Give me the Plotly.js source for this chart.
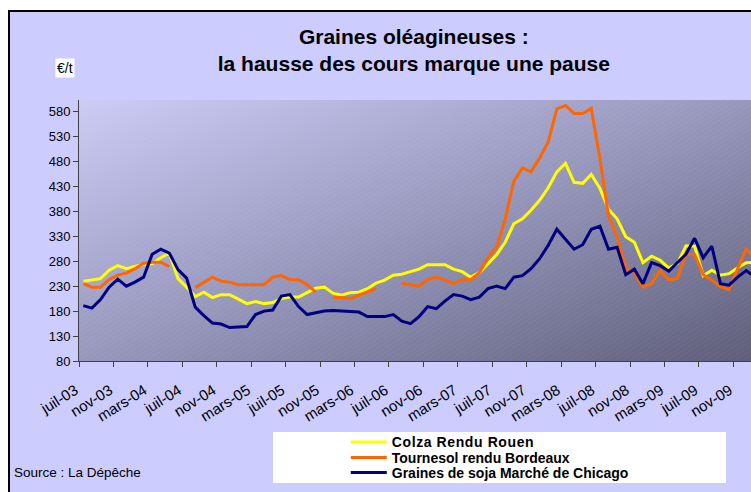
<!DOCTYPE html>
<html>
<head>
<meta charset="utf-8">
<script src="https://cdn.plot.ly/plotly-3.0.1.min.js"></script>
<style>
  html, body { margin:0; padding:0; background:#ffffff; }
  #chart { position:absolute; left:8px; top:10px; width:741px; height:480px;
           border-left:2px solid #000; border-top:2px solid #000; }
  #chart text.legendtext { letter-spacing: 0.6px !important; }
</style>
</head>
<body>
<div id="chart"></div>
<script>
// ---- data (monthly, €/t) ----
const months = [
  "juil-03","août-03","sept-03","oct-03","nov-03","déc-03",
  "janv-04","févr-04","mars-04","avr-04","mai-04","juin-04","juil-04","août-04","sept-04","oct-04","nov-04","déc-04",
  "janv-05","févr-05","mars-05","avr-05","mai-05","juin-05","juil-05","août-05","sept-05","oct-05","nov-05","déc-05",
  "janv-06","févr-06","mars-06","avr-06","mai-06","juin-06","juil-06","août-06","sept-06","oct-06","nov-06","déc-06",
  "janv-07","févr-07","mars-07","avr-07","mai-07","juin-07","juil-07","août-07","sept-07","oct-07","nov-07","déc-07",
  "janv-08","févr-08","mars-08","avr-08","mai-08","juin-08","juil-08","août-08","sept-08","oct-08","nov-08","déc-08",
  "janv-09","févr-09","mars-09","avr-09","mai-09","juin-09","juil-09","août-09","sept-09","oct-09","nov-09","déc-09",
  "janv-10"
];

const colza = [
  240,243,245,262,271,265,270,274,275,287,296,245,228,209,218,207,213,213,
  204,195,199,195,197,205,208,208,217,226,228,216,212,217,218,225,236,242,
  252,254,259,264,273,273,273,264,259,248,257,275,293,318,355,365,382,402,
  427,459,476,438,436,454,426,384,365,329,318,277,290,282,266,275,311,310,
  251,262,252,255,267,277,278
];

const tournesol = [
  235,228,228,243,252,256,265,276,278,278,269,null,null,227,238,248,240,238,
  233,233,233,233,248,251,243,243,233,218,null,207,207,205,212,218,225,null,
  null,236,233,230,243,248,242,235,243,243,257,287,308,364,440,467,459,487,
  519,585,592,576,576,586,486,371,330,267,257,228,235,262,243,245,294,293,
  253,242,229,223,265,305,285
];

const soja = [
  191,186,203,228,244,230,238,248,294,304,296,263,246,188,171,156,154,147,
  148,149,173,180,182,210,213,189,173,176,180,181,180,180,178,169,169,169,
  173,160,155,169,189,185,200,213,210,203,208,225,230,225,248,251,265,285,
  312,344,324,304,313,344,350,304,308,253,264,235,277,271,260,276,294,326,
  287,310,235,232,248,261,248
];

const seriesNames = ["Colza Rendu Rouen", "Tournesol rendu Bordeaux", "Graines de soja Marché de Chicago"];
const seriesColors = ["#FFFF00", "#FF6600", "#000080"];

const labelStep = 4;
const xIndex = months.map((m, i) => i);
const tickVals = xIndex.filter(i => i % labelStep === 0);
const tickText = tickVals.map(i => months[i]);

const FONT = "Liberation Sans, Arial, Helvetica, sans-serif";

const traces = [colza, tournesol, soja].map((vals, k) => ({
  type: "scatter",
  mode: "lines",
  x: xIndex,
  y: vals,
  name: seriesNames[k],
  line: { color: seriesColors[k], width: 3 },
  connectgaps: false,
  legend: k === 0 ? "legend" : (k === 1 ? "legend2" : "legend3"),
  hoverinfo: "skip"
}));

// gradient wall for the plot area
const svg =
  "<svg xmlns='http://www.w3.org/2000/svg' width='672' height='261' viewBox='0 0 672 261' preserveAspectRatio='none'>" +
  "<defs><linearGradient id='g' x1='0' y1='0' x2='1' y2='1'>" +
  "<stop offset='0' stop-color='#CBCBF5'/><stop offset='0.5' stop-color='#9797BD'/><stop offset='1' stop-color='#5E5E7A'/></linearGradient>" +
  "<pattern id='p' width='4' height='4' patternUnits='userSpaceOnUse' patternTransform='rotate(58)'>" +
  "<line x1='0' y1='0' x2='0' y2='4' stroke='#ffffff' stroke-width='0.8' stroke-opacity='0.10'/></pattern></defs>" +
  "<rect width='672' height='261' fill='url(#g)'/><rect width='672' height='261' fill='url(#p)'/></svg>";
const bgSrc = "data:image/svg+xml;charset=utf-8," + encodeURIComponent(svg);

const legendFont = { family: FONT, size: 14, weight: "bold", color: "#000" };
const legendBase = {
  bgcolor: "rgba(0,0,0,0)", borderwidth: 0, font: legendFont,
  orientation: "h", entrywidth: 330, entrywidthmode: "pixels",
  x: 0.397, xanchor: "left", yanchor: "middle", itemwidth: 36
};

const layout = {
  width: 741, height: 480,
  margin: { l: 69, r: 0, t: 88, b: 131, pad: 0 },
  paper_bgcolor: "#CCCCFF",
  plot_bgcolor: "rgba(0,0,0,0)",
  font: { family: FONT, color: "#000", size: 13 },
  title: {
    text: "Graines oléagineuses :<br>la hausse des cours marque une pause",
    font: { family: FONT, size: 21, weight: "bold", color: "#000" },
    x: 0.545, xanchor: "center", xref: "container",
    y: 0.933, yanchor: "top", yref: "container"
  },
  xaxis: {
    type: "linear",
    range: [-0.5, 77.55],
    tickmode: "array", tickvals: tickVals, ticktext: tickText,
    ticks: "", tickangle: -32,
    ticklabelshift: -8, ticklabelstandoff: 14,
    tickfont: { family: FONT, size: 15, color: "#000" },
    showline: true, linecolor: "#404040", linewidth: 1,
    showgrid: false, zeroline: false, automargin: false,
    minor: { tickmode: "linear", tick0: -0.5, dtick: 4, ticks: "outside", ticklen: 5, tickwidth: 1, tickcolor: "#404040", showgrid: false },
    fixedrange: true
  },
  yaxis: {
    range: [80, 603],
    tickmode: "linear", tick0: 80, dtick: 50,
    ticks: "outside", ticklen: 5, tickwidth: 1, tickcolor: "#404040",
    showline: true, linecolor: "#404040", linewidth: 1,
    showgrid: false, zeroline: false, automargin: false,
    tickfont: { family: FONT, size: 13, color: "#000" },
    fixedrange: true
  },
  images: [{
    source: bgSrc, xref: "paper", yref: "paper",
    x: 0, y: 1, sizex: 1, sizey: 1, xanchor: "left", yanchor: "top",
    sizing: "stretch", layer: "below"
  }],
  shapes: [{
    type: "rect", xref: "paper", yref: "paper",
    x0: 0.2887, x1: 0.9628, y0: -0.4674, y1: -0.2720,
    fillcolor: "#FFFFFF", line: { width: 0 }, layer: "below"
  }],
  annotations: [
    { text: "€/t", xref: "paper", yref: "paper", x: -0.0208, y: 1.1226,
      xanchor: "center", yanchor: "middle", showarrow: false,
      bgcolor: "#FFFFFF", borderpad: 1, font: { family: FONT, size: 14, color: "#000" } },
    { text: "Source : La Dépêche", xref: "paper", yref: "paper", x: -0.0997, y: -0.4253,
      xanchor: "left", yanchor: "middle", showarrow: false,
      font: { family: FONT, size: 13.5, color: "#000" } }
  ],
  showlegend: true,
  legend: Object.assign({}, legendBase, { y: -0.3117 }),
  legend2: Object.assign({}, legendBase, { y: -0.3716 }),
  legend3: Object.assign({}, legendBase, { y: -0.4292 })
};

Plotly.newPlot("chart", traces, layout, { displayModeBar: false, staticPlot: true });
</script>
</body>
</html>
